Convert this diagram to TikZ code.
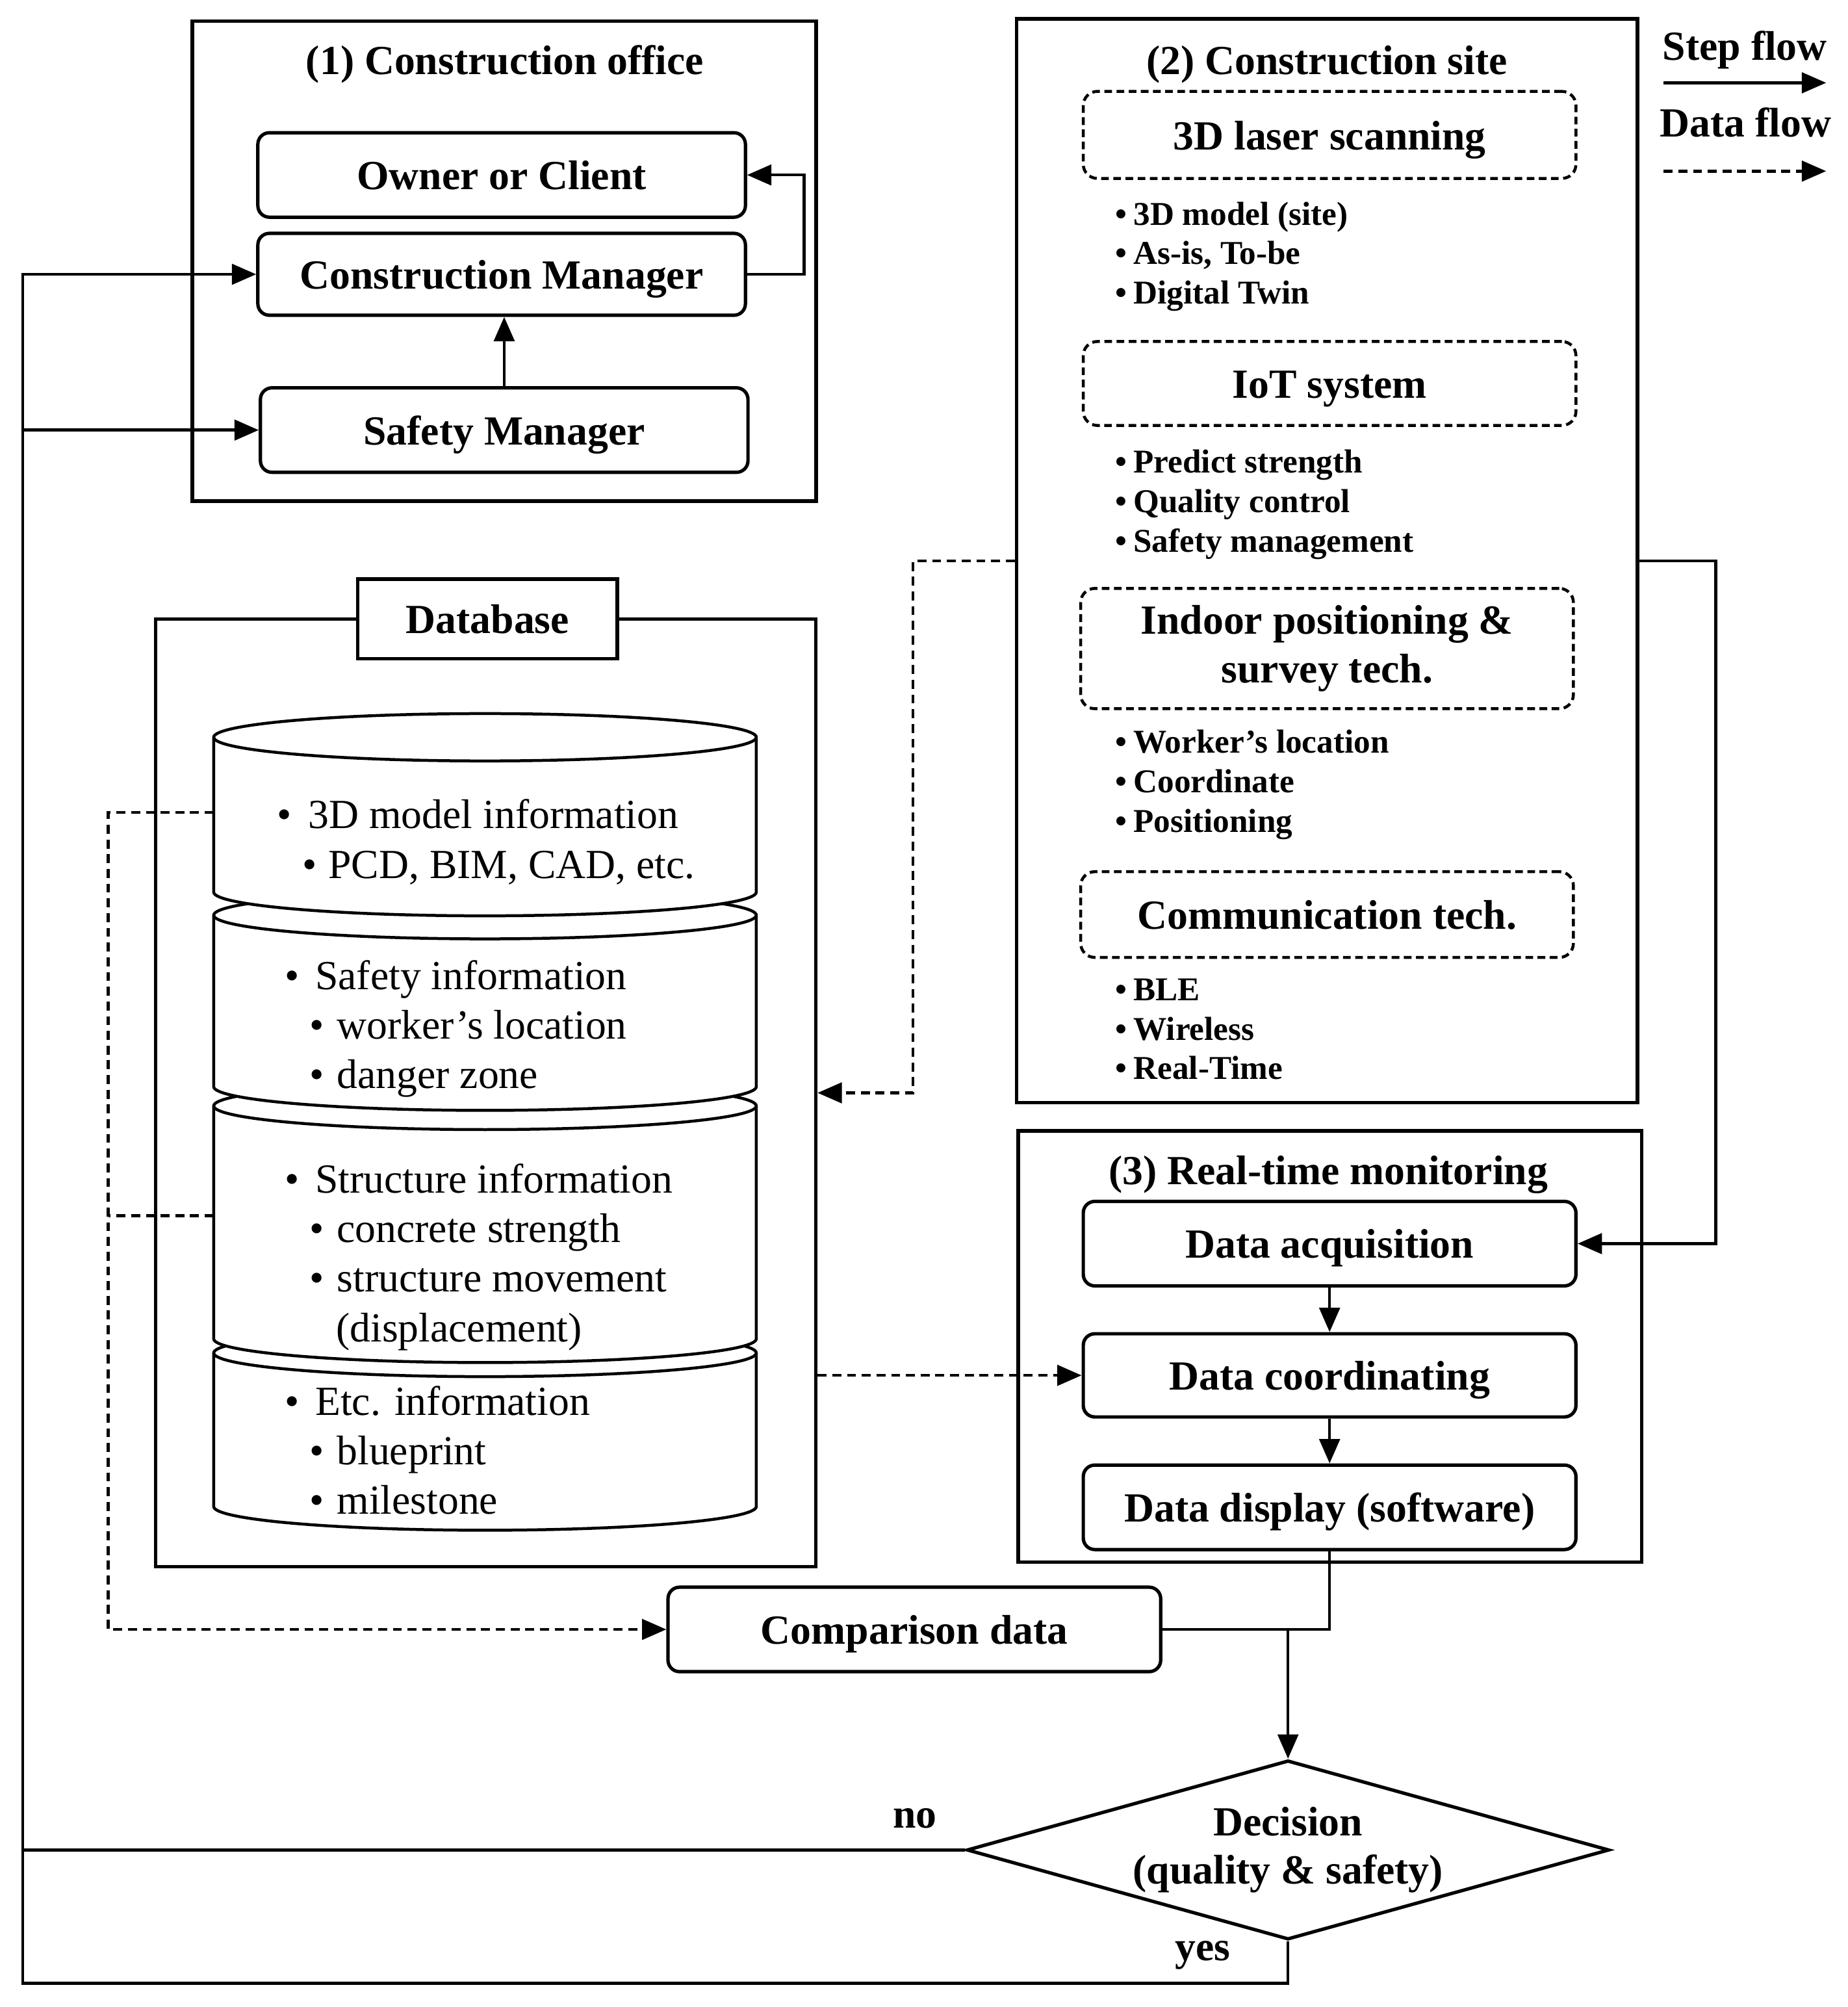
\documentclass[tikz,border=0pt]{standalone}
\usepackage{fontspec}
\setmainfont{Liberation Serif}
\usetikzlibrary{shapes.geometric, arrows.meta, positioning}

\begin{document}
\begin{tikzpicture}[
    area/.style={draw, line width=0.8pt, inner sep=0pt},
    oneline/.style={text height=0.85em, text depth=0.2em},
    stepbox/.style={
      draw,
      rounded corners=0.9mm,
      line width=0.75pt,
      minimum width=3.85cm,
      minimum height=0.66cm,
      inner sep=0pt,
      align=center,
      oneline,
      font=\fontsize{9.2}{10.8}\selectfont\bfseries
    },
    techbox/.style={
      draw,
      rounded corners=1.1mm,
      line width=0.65pt,
      dash pattern=on 0.6mm off 0.35mm,
      minimum width=3.85cm,
      minimum height=0.66cm,
      inner sep=0pt,
      align=center,
      font=\fontsize{9.2}{10.8}\selectfont\bfseries
    },
    heading/.style={anchor=base, inner sep=0pt, font=\fontsize{9.2}{10.8}\selectfont\bfseries},
    points/.style={anchor=north west, inner sep=0pt, align=left, font=\fontsize{7.4}{8.77}\selectfont\bfseries},
    dbtext/.style={anchor=north west, inner sep=0pt, align=left, font=\fontsize{9.2}{11.04}\selectfont},
    cyl/.style={draw, fill=white, line width=0.65pt},
    conn/.style={line width=0.65pt},
    stepflow/.style={conn, -{Triangle[length=1.9mm, width=1.6mm]}},
    datalink/.style={conn, dash pattern=on 0.7mm off 0.45mm},
    dataflow/.style={datalink, -{Triangle[length=1.9mm, width=1.6mm]}}
  ]
    \useasboundingbox (0,0) rectangle (14.44,-15.68);

    \node[area, minimum width=4.875cm, minimum height=3.75cm] (office) at (3.94,-2.04) {};
    \node[heading] (officetitle) at (3.945,-0.583) {(1) Construction office};
    \node[stepbox, minimum width=3.81cm] (owner) at (3.92,-1.367) {Owner or Client};
    \node[stepbox, minimum width=3.81cm, minimum height=0.64cm] (cm) at (3.92,-2.143) {Construction Manager};
    \node[stepbox, minimum width=3.81cm] (safety) at (3.94,-3.36) {Safety Manager};

    \node[area, minimum width=4.852cm, minimum height=8.466cm] (site) at (10.37,-4.381) {};
    \node[heading] (sitetitle) at (10.37,-0.583) {(2) Construction site};
    \node[techbox, oneline, minimum height=0.68cm] (laser) at (10.39,-1.054) {3D laser scanning};
    \node[points] (laserpts) at (8.71,-1.57) {\textbullet\hspace{0.05cm}3D model (site)\\\textbullet\hspace{0.05cm}As-is, To-be\\\textbullet\hspace{0.05cm}Digital Twin};
    \node[techbox, oneline, minimum height=0.656cm] (iot) at (10.39,-2.996) {IoT system};
    \node[points] (iotpts) at (8.71,-3.508) {\textbullet\hspace{0.05cm}Predict strength\\\textbullet\hspace{0.05cm}Quality control\\\textbullet\hspace{0.05cm}Safety management};
    \node[techbox, minimum height=0.94cm] (indoor) at (10.37,-5.067) {Indoor positioning \&\\survey tech.};
    \node[points] (indoorpts) at (8.71,-5.697) {\textbullet\hspace{0.05cm}Worker’s location\\\textbullet\hspace{0.05cm}Coordinate\\\textbullet\hspace{0.05cm}Positioning};
    \node[techbox, oneline, minimum height=0.67cm] (comm) at (10.37,-7.145) {Communication tech.};
    \node[points] (commpts) at (8.71,-7.64) {\textbullet\hspace{0.05cm}BLE\\\textbullet\hspace{0.05cm}Wireless\\\textbullet\hspace{0.05cm}Real-Time};

    \node[heading] (stepkey) at (13.635,-0.47) {Step flow};
    \node[heading] (datakey) at (13.64,-1.07) {Data flow};
    \coordinate (stepA) at (13.0,-0.647);
    \coordinate (stepB) at (14.27,-0.647);
    \coordinate (dataA) at (13.0,-1.337);
    \coordinate (dataB) at (14.27,-1.337);
    \draw[stepflow] (stepA) -- (stepB);
    \draw[dataflow] (dataA) -- (dataB);

    \node[area, minimum width=5.16cm, minimum height=7.405cm] (db) at (3.795,-8.538) {};
    \foreach \cyltop/\cylbot in {10.57/11.77, 8.64/10.46, 7.15/8.49, 5.76/6.97} {
      \path[cyl] (1.67,-\cylbot) arc[start angle=180, end angle=360, x radius=2.12cm, y radius=0.185cm]
        -- (5.91,-\cyltop) arc[start angle=0, end angle=180, x radius=2.12cm, y radius=0.185cm] -- cycle;
      \draw[line width=0.65pt] (1.67,-\cyltop) arc[start angle=180, end angle=360, x radius=2.12cm, y radius=0.185cm];
    }
    \node[area, fill=white, minimum width=2.03cm, minimum height=0.622cm, oneline, font=\fontsize{9.2}{10.8}\selectfont\bfseries] (dblabel) at (3.81,-4.835) {Database};
    \node[dbtext] (db1txt) at (2.16,-6.239) {\textbullet\hspace{0.13cm}3D model information\\\hspace*{0.195cm}\textbullet\hspace{0.092cm}PCD, BIM, CAD, etc.};
    \node[dbtext] (db2txt) at (2.22,-7.494) {\textbullet\hspace{0.124cm}Safety information\\\hspace*{0.19cm}\textbullet\hspace{0.103cm}worker’s location\\\hspace*{0.19cm}\textbullet\hspace{0.103cm}danger zone};
    \node[dbtext] (db3txt) at (2.22,-9.083) {\textbullet\hspace{0.124cm}Structure information\\\hspace*{0.19cm}\textbullet\hspace{0.103cm}concrete strength\\\hspace*{0.19cm}\textbullet\hspace{0.103cm}structure movement\\\hspace*{0.40cm}(displacement)};
    \node[dbtext] (db4txt) at (2.22,-10.82) {\textbullet\hspace{0.124cm}Etc. information\\\hspace*{0.19cm}\textbullet\hspace{0.103cm}blueprint\\\hspace*{0.19cm}\textbullet\hspace{0.103cm}milestone};
    \coordinate (cyl1w) at (1.67,-6.348);
    \coordinate (cyl3w) at (1.67,-9.498);
    \coordinate (dbleft) at (0.846,-6.348);

    \node[area, minimum width=4.872cm, minimum height=3.368cm] (monitor) at (10.393,-10.52) {};
    \node[heading] (montitle) at (10.38,-9.256) {(3) Real-time monitoring};
    \node[stepbox] (acq) at (10.39,-9.716) {Data acquisition};
    \node[stepbox, minimum height=0.65cm] (coord) at (10.39,-10.745) {Data coordinating};
    \node[stepbox] (display) at (10.39,-11.776) {Data display (software)};

    \node[stepbox] (comp) at (7.145,-12.73) {Comparison data};
    \node[draw, diamond, aspect=3.6, minimum width=5.02cm, minimum height=1.40cm, inner sep=0pt,
      line width=0.75pt, align=center, font=\fontsize{9.2}{10.8}\selectfont\bfseries] (dec) at (10.065,-14.453) {Decision\\(quality \& safety)};
    \node[heading] (nolabel) at (7.15,-14.28) {no};
    \node[heading] (yeslabel) at (9.40,-15.315) {yes};
    \coordinate (loopbot) at (0.178,-15.495);
    \coordinate (merge) at (dec.north |- comp.east);

    \draw[stepflow] (safety.north) -- (safety.north |- cm.south);
    \draw[stepflow] (cm.east) -- ++(0.445,0) |- (owner.east);
    \draw[stepflow] (dec.south) |- (loopbot) |- (cm.west);
    \draw[stepflow] (loopbot |- safety.west) -- (safety.west);
    \draw[conn] (dec.west) -- (loopbot |- dec.west);
    \draw[stepflow] (site.east) -- ++(0.598,0) |- (acq.east);
    \draw[stepflow] (acq) -- (coord);
    \draw[stepflow] (coord) -- (display);
    \draw[conn] (display.south) |- (comp.east);
    \draw[stepflow] (merge) -- (dec.north);
    \draw[dataflow] (site.west) -- ++(-0.795,0) |- (db.east);
    \draw[dataflow] (db.east |- coord.west) -- (coord.west);
    \draw[dataflow] (cyl1w) -- (dbleft) |- (comp.west);
    \draw[datalink] (cyl3w) -- (dbleft |- cyl3w);
  \end{tikzpicture}
\end{document}
